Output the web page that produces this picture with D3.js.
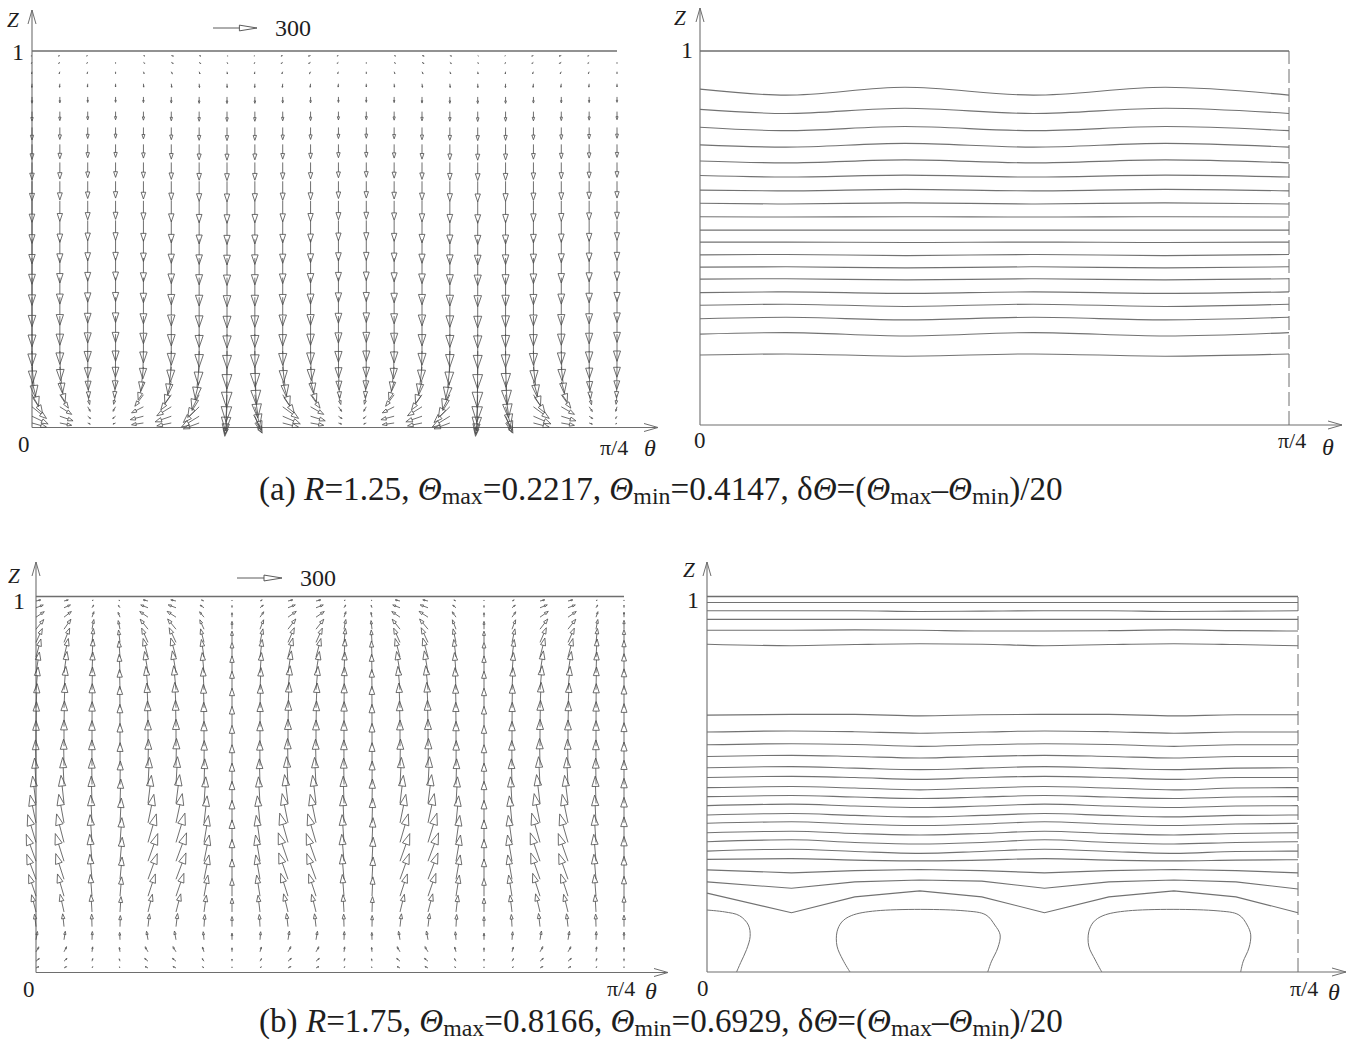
<!DOCTYPE html>
<html>
<head>
<meta charset="utf-8">
<script src="https://cdn.jsdelivr.net/npm/d3@7"></script>
<style>
  body { margin: 0; background: #fff; }
  svg text { font-family: "Liberation Serif", "Times New Roman", "DejaVu Serif", serif; fill: #1e1e1e; }
</style>
</head>
<body>
<svg id="fig" width="1353" height="1047"></svg>
<script>
// ---------- data ----------
const Q = Math.PI / 4;           // theta runs 0 .. pi/4
const nCols = 22;                // vector columns across theta
const refVector = 300;           // length of the key arrow

// mesh rows (Z), bottom to top, same mesh in both vector plots
const gridZ = [0.012, 0.03, 0.055, 0.087, 0.122, 0.161, 0.203, 0.248, 0.296, 0.346, 0.398, 0.45, 0.5,
               0.55, 0.602, 0.654, 0.704, 0.752, 0.797, 0.839, 0.878, 0.913, 0.945, 0.97, 0.988];

// (a) R=1.25 : downward flow, per column strength times per row profile
const downA     = [215, 205, 190, 185, 195, 210, 220, 225, 220, 210, 205, 190, 185, 195, 210, 220, 225, 220, 210, 205, 195, 185];
const downProfA = [0.02, 0.05, 0.12, 0.3, 0.55, 0.8, 0.95, 1.0, 0.97, 0.93, 0.88, 0.83, 0.78, 0.73, 0.68, 0.62, 0.55, 0.48, 0.4, 0.3, 0.2, 0.12, 0.07, 0.04, 0.02];
const jetA      = [60, 30, 10, 10, 20, 40, 90, 180, 150, 60, 30, 10, 10, 20, 40, 90, 180, 150, 60, 30, 10, 10];
const jetProfA  = [0.4, 0.7, 0.9, 1.0, 0.85, 0.55, 0.25, 0.05, 0, 0, 0, 0, 0, 0, 0, 0, 0, 0, 0, 0, 0, 0, 0, 0, 0];
const sideA     = [110, 90, 20, -20, -90, -110, -120, -15, 50, 120, 100, 25, -20, -90, -110, -120, -15, 50, 120, 100, 25, -10];
const sideProfA = [0.9, 1.0, 0.9, 0.65, 0.4, 0.2, 0.05, 0, 0, 0, 0, 0, 0, 0, 0, 0, 0, 0, 0, 0, 0, 0, 0, 0, 0];
const lidA      = [-5, -10, -8, 0, 10, 15, 12, 5, -5, -12, -15, -10, 0, 10, 15, 12, 5, -5, -12, -15, -10, 0];
const lidProfA  = [0, 0, 0, 0, 0, 0, 0, 0, 0, 0, 0, 0, 0, 0, 0, 0, 0, 0, 0, 0, 0, 0.2, 0.5, 0.9, 1.0];

// (b) R=1.75 : upward flow
const upB       = [185, 190, 185, 165, 190, 195, 180, 150, 180, 195, 190, 185, 165, 190, 195, 180, 150, 180, 195, 190, 185, 170];
const upProfB   = [0.05, 0.1, 0.18, 0.3, 0.45, 0.62, 0.78, 0.9, 0.97, 1.0, 1.0, 0.98, 0.95, 0.93, 0.92, 0.9, 0.87, 0.82, 0.75, 0.65, 0.5, 0.35, 0.2, 0.1, 0.04];
const sideB     = [-65, -58, -15, 15, 65, 70, 35, 0, -30, -65, -65, -15, 8, 65, 70, 30, 0, -30, -65, -65, -15, 0];
const sideProfB = [-0.3, -0.35, -0.3, -0.15, 0.15, 0.45, 0.75, 0.95, 1.0, 0.85, 0.6, 0.35, 0.15, 0.05, 0, -0.05, -0.12, -0.22, -0.35, -0.5, -0.65, -0.8, -0.85, -0.75, -0.5];

// (a) isotherms: Z at these theta fractions
const thetaA = [0, 0.146, 0.348, 0.566, 0.79, 1.0];
const isoA = [
  [0.898, 0.882, 0.903, 0.882, 0.903, 0.882],
  [0.844, 0.833, 0.847, 0.833, 0.847, 0.833],
  [0.796, 0.787, 0.798, 0.787, 0.798, 0.787],
  [0.749, 0.743, 0.753, 0.743, 0.753, 0.743],
  [0.706, 0.701, 0.709, 0.701, 0.709, 0.701],
  [0.667, 0.663, 0.668, 0.663, 0.668, 0.663],
  [0.628, 0.626, 0.630, 0.626, 0.630, 0.626],
  [0.593, 0.591, 0.594, 0.591, 0.594, 0.591],
  [0.557, 0.556, 0.557, 0.556, 0.557, 0.556],
  [0.521, 0.521, 0.521, 0.521, 0.521, 0.521],
  [0.489, 0.489, 0.488, 0.489, 0.488, 0.489],
  [0.455, 0.456, 0.453, 0.456, 0.453, 0.456],
  [0.422, 0.423, 0.420, 0.423, 0.420, 0.423],
  [0.390, 0.391, 0.388, 0.391, 0.388, 0.391],
  [0.354, 0.356, 0.352, 0.356, 0.352, 0.356],
  [0.320, 0.323, 0.317, 0.323, 0.317, 0.323],
  [0.284, 0.288, 0.281, 0.288, 0.281, 0.288],
  [0.243, 0.247, 0.238, 0.247, 0.238, 0.247],
  [0.187, 0.190, 0.184, 0.190, 0.184, 0.190]
];

// (b) isotherms
const thetaB = [0, 0.143, 0.25, 0.36, 0.465, 0.571, 0.68, 0.79, 0.895, 1.0];
const isoB = [
  [0.984, 0.984, 0.984, 0.984, 0.984, 0.984, 0.984, 0.984, 0.984, 0.984],
  [0.962, 0.962, 0.962, 0.960, 0.961, 0.962, 0.962, 0.960, 0.961, 0.962],
  [0.939, 0.939, 0.939, 0.939, 0.939, 0.939, 0.939, 0.939, 0.939, 0.939],
  [0.910, 0.910, 0.911, 0.910, 0.908, 0.908, 0.909, 0.911, 0.909, 0.908],
  [0.873, 0.869, 0.872, 0.874, 0.873, 0.869, 0.872, 0.874, 0.872, 0.869],
  [0.684, 0.686, 0.686, 0.682, 0.685, 0.686, 0.686, 0.682, 0.685, 0.685],
  [0.639, 0.642, 0.640, 0.636, 0.639, 0.642, 0.640, 0.636, 0.639, 0.639],
  [0.605, 0.608, 0.606, 0.601, 0.605, 0.608, 0.606, 0.601, 0.605, 0.605],
  [0.574, 0.577, 0.574, 0.570, 0.574, 0.577, 0.574, 0.570, 0.574, 0.574],
  [0.544, 0.547, 0.543, 0.539, 0.543, 0.547, 0.543, 0.539, 0.543, 0.544],
  [0.518, 0.521, 0.518, 0.513, 0.518, 0.521, 0.518, 0.513, 0.518, 0.518],
  [0.491, 0.494, 0.490, 0.485, 0.490, 0.494, 0.490, 0.485, 0.490, 0.491],
  [0.467, 0.470, 0.466, 0.462, 0.466, 0.470, 0.466, 0.462, 0.466, 0.467],
  [0.443, 0.447, 0.442, 0.438, 0.442, 0.447, 0.442, 0.438, 0.442, 0.443],
  [0.418, 0.422, 0.417, 0.413, 0.417, 0.422, 0.417, 0.413, 0.417, 0.418],
  [0.396, 0.400, 0.394, 0.390, 0.394, 0.400, 0.394, 0.390, 0.394, 0.396],
  [0.371, 0.375, 0.369, 0.365, 0.369, 0.375, 0.369, 0.365, 0.369, 0.371],
  [0.347, 0.352, 0.345, 0.341, 0.345, 0.352, 0.345, 0.341, 0.345, 0.347],
  [0.322, 0.327, 0.321, 0.316, 0.321, 0.327, 0.321, 0.316, 0.321, 0.322],
  [0.300, 0.302, 0.298, 0.296, 0.298, 0.302, 0.298, 0.296, 0.298, 0.299]
];
// lines with sharp kinks just above the cells
const kinkB = [
  [0.272, 0.264, 0.270, 0.273, 0.270, 0.264, 0.270, 0.273, 0.270, 0.264],
  [0.240, 0.223, 0.240, 0.245, 0.242, 0.223, 0.240, 0.245, 0.240, 0.221],
  [0.210, 0.158, 0.200, 0.216, 0.200, 0.158, 0.200, 0.216, 0.200, 0.158]
];
// closed cells on the bottom wall: [theta fraction, Z]
const cellsB = [
  [[0, 0.165], [0.030, 0.160], [0.055, 0.150], [0.070, 0.125], [0.073, 0.095], [0.067, 0.060], [0.057, 0.025], [0.050, 0]],
  [[0.242, 0], [0.230, 0.032], [0.220, 0.069], [0.220, 0.107], [0.228, 0.133], [0.244, 0.150], [0.287, 0.163],
   [0.435, 0.163], [0.472, 0.152], [0.487, 0.125], [0.496, 0.099], [0.492, 0.064], [0.481, 0.027], [0.475, 0]],
  [[0.668, 0], [0.657, 0.032], [0.646, 0.069], [0.646, 0.107], [0.654, 0.133], [0.670, 0.150], [0.713, 0.163],
   [0.863, 0.163], [0.900, 0.152], [0.914, 0.125], [0.920, 0.099], [0.917, 0.064], [0.907, 0.027], [0.903, 0]]
];

// captions
const capLetter = ['a', 'b'];
const capR      = ['1.25', '1.75'];
const capMax    = ['0.2217', '0.8166'];
const capMin    = ['0.4147', '0.6929'];

// ---------- layout ----------
const panels = {
  aVec: { x0: 32,  x1: 617,  y0: 427.5, y1: 51,    xEnd: 658,  yTop: 10,
          Z: [7, 27],   one: [12, 60],  zero: [18, 452], pi: [600, 455],  th: [644, 456], key: [213, 28], keyTxt: [275, 36], k: 44 / 300 },
  aCon: { x0: 700, x1: 1289, y0: 425,   y1: 51,    xEnd: 1342, yTop: 8,
          Z: [674, 25], one: [681, 58], zero: [694, 448], pi: [1278, 448], th: [1322, 455] },
  bVec: { x0: 36,  x1: 624,  y0: 972.5, y1: 596.5, xEnd: 668,  yTop: 562,
          Z: [8, 583],  one: [13, 609], zero: [23, 997], pi: [607, 996],  th: [645, 999], key: [237, 578], keyTxt: [300, 586], k: 45 / 300 },
  bCon: { x0: 707, x1: 1298, y0: 972,   y1: 596.5, xEnd: 1346, yTop: 562,
          Z: [683, 577], one: [687, 608], zero: [697, 996], pi: [1290, 996], th: [1328, 1000] }
};

const fig = d3.select('#fig');
const AX = '#6e6e6e';

function arrowPath(px, py, dx, dy, hl, hw) {
  const L = Math.hypot(dx, dy);
  const ex = dx / L, ey = dy / L, nx = -ey, ny = ex;
  const tx = px + dx, ty = py + dy;
  const bx = tx - hl * L * ex, by = ty - hl * L * ey, w = hw * L;
  return `M${px},${py}L${bx},${by}M${tx},${ty}L${bx + w * nx},${by + w * ny}L${bx - w * nx},${by - w * ny}Z`;
}

function frame(p, dashed) {
  const g = fig.append('g');
  const x = d3.scaleLinear().domain([0, Q]).range([p.x0, p.x1]);
  const y = d3.scaleLinear().domain([0, 1]).range([p.y0, p.y1]);

  g.append('line').attr('x1', x(0)).attr('y1', y(0)).attr('x2', x(0)).attr('y2', p.yTop)
    .attr('stroke', AX).attr('stroke-width', 1.1);
  g.append('path').attr('d', `M${x(0) - 4},${p.yTop + 14}L${x(0)},${p.yTop}L${x(0) + 4},${p.yTop + 14}`)
    .attr('fill', 'none').attr('stroke', AX).attr('stroke-width', 1);
  g.append('line').attr('x1', x(0)).attr('y1', y(0)).attr('x2', p.xEnd).attr('y2', y(0))
    .attr('stroke', AX).attr('stroke-width', 1.1);
  g.append('path').attr('d', `M${p.xEnd - 14},${y(0) - 4}L${p.xEnd},${y(0)}L${p.xEnd - 14},${y(0) + 4}`)
    .attr('fill', 'none').attr('stroke', AX).attr('stroke-width', 1);
  g.append('line').attr('x1', x(0)).attr('y1', y(1)).attr('x2', x(Q)).attr('y2', y(1))
    .attr('stroke', AX).attr('stroke-width', 1.4);
  if (dashed) {
    g.append('line').attr('x1', x(Q)).attr('y1', y(0)).attr('x2', x(Q)).attr('y2', y(1))
      .attr('stroke', AX).attr('stroke-width', 1).attr('stroke-dasharray', '14,5');
  }

  const lab = (pos, txt, size, italic) => g.append('text').attr('x', pos[0]).attr('y', pos[1])
    .attr('font-size', size).attr('font-style', italic ? 'italic' : null).text(txt);
  lab(p.Z, 'Z', 21, true);
  lab(p.one, '1', 24);
  lab(p.zero, '0', 23);
  lab(p.pi, 'π/4', 22);
  lab(p.th, 'θ', 24, true);
  return { g, x, y };
}

function field(p, sc, sign, wTerms, uTerms) {
  const cols = d3.range(nCols).map(i => i / (nCols - 1) * Q);
  const arrows = [];
  cols.forEach((th, i) => gridZ.forEach((z, j) => {
    const w = sign * d3.sum(wTerms, t => t[0][i] * t[1][j]);   // upward positive
    const u = d3.sum(uTerms, t => t[0][i] * t[1][j]);
    arrows.push({ th, z, u, w });
  }));
  sc.g.append('g').selectAll('path')
    .data(arrows.filter(a => Math.hypot(a.u, a.w) * p.k > 0.8))
    .join('path')
    .attr('d', a => arrowPath(sc.x(a.th), sc.y(a.z), a.u * p.k, -a.w * p.k, 0.38, 0.13))
    .attr('fill', 'none').attr('stroke', '#4a4a4a').attr('stroke-width', 0.8);

  // key arrow
  sc.g.append('path').attr('d', arrowPath(p.key[0], p.key[1], refVector * p.k, 0, 0.4, 0.065))
    .attr('fill', 'none').attr('stroke', '#4a4a4a').attr('stroke-width', 0.9);
  sc.g.append('text').attr('x', p.keyTxt[0]).attr('y', p.keyTxt[1]).attr('font-size', 24).text(refVector);
}

function isolines(sc, thetas, lines, curve) {
  const line = d3.line().x((z, i) => sc.x(thetas[i] * Q)).y(z => sc.y(z)).curve(curve);
  sc.g.append('g').selectAll('path').data(lines).join('path')
    .attr('d', line).attr('fill', 'none').attr('stroke', '#727272').attr('stroke-width', 1.1);
}

function cells(sc, shapes) {
  const line = d3.line().x(d => sc.x(d[0] * Q)).y(d => sc.y(d[1])).curve(d3.curveCatmullRom);
  sc.g.append('g').selectAll('path').data(shapes).join('path')
    .attr('d', line).attr('fill', 'none').attr('stroke', '#727272').attr('stroke-width', 1);
}

function caption(idx, xStart, xEnd, baseline) {
  const t = fig.append('text').attr('x', xStart).attr('y', baseline).attr('font-size', 28);
  const segs = [
    { s: `(${capLetter[idx]}) ` }, { s: 'R', i: 1 }, { s: `=${capR[idx]}, ` },
    { s: 'Θ', i: 1 }, { s: 'max', sub: 1 }, { s: `=${capMax[idx]}, ` },
    { s: 'Θ', i: 1 }, { s: 'min', sub: 1 }, { s: `=${capMin[idx]}, δ` },
    { s: 'Θ', i: 1 }, { s: '=(' }, { s: 'Θ', i: 1 }, { s: 'max', sub: 1 }, { s: '–' },
    { s: 'Θ', i: 1 }, { s: 'min', sub: 1 }, { s: ')/20' }
  ];
  let lowered = false;
  segs.forEach(sg => {
    const ts = t.append('tspan').text(sg.s);
    if (sg.i) ts.attr('font-style', 'italic');
    if (sg.sub) { ts.attr('font-size', '0.72em').attr('dy', 4); lowered = true; }
    else if (lowered) { ts.attr('dy', -4); lowered = false; }
  });
  const w = t.node().getComputedTextLength();
  t.attr('font-size', 28 * (xEnd - xStart) / w);
}

// ---------- draw ----------
const aV = frame(panels.aVec, false);
field(panels.aVec, aV, -1,
  [[downA, downProfA], [jetA, jetProfA]],
  [[sideA, sideProfA], [lidA, lidProfA]]);

const aC = frame(panels.aCon, true);
isolines(aC, thetaA, isoA, d3.curveMonotoneX);

const bV = frame(panels.bVec, false);
field(panels.bVec, bV, 1,
  [[upB, upProfB]],
  [[sideB, sideProfB]]);

const bC = frame(panels.bCon, true);
isolines(bC, thetaB, isoB, d3.curveMonotoneX);
isolines(bC, thetaB, kinkB, d3.curveLinear);
cells(bC, cellsB);

caption(0, 259, 1063, 500);
caption(1, 259, 1063, 1032);
</script>
</body>
</html>
